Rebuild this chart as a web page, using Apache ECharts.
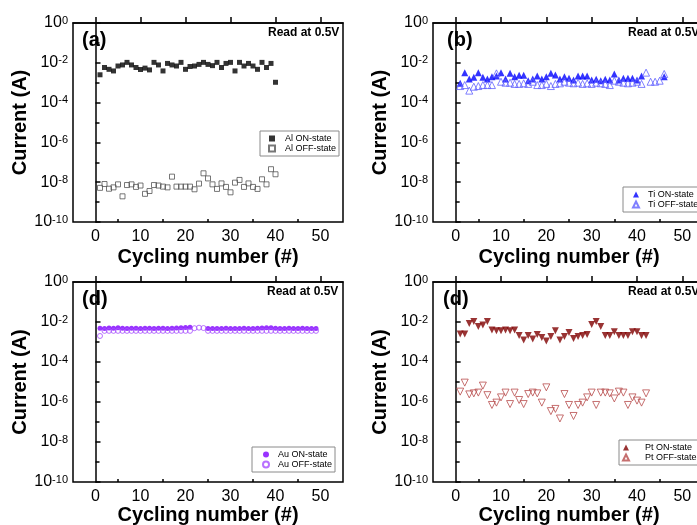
<!DOCTYPE html>
<html>
<head>
<meta charset="utf-8">
<script src="https://cdn.jsdelivr.net/npm/echarts@6/dist/echarts.min.js"></script>
<style>
html, body { margin: 0; padding: 0; background: #fff; }
#chart { width: 697px; height: 525px; }
</style>
</head>
<body>
<div id="chart"></div>
<script>
var FONT = '"Liberation Sans", Arial, sans-serif';

// tick labels
var xTicks = [0, 10, 20, 30, 40, 50];
var xMinorTicks = [5, 15, 25, 35, 45];
var yTickExp = [-10, -8, -6, -4, -2, 0];

// current (A) per cycle, cycle = index + 1
var alOn = [2.5e-3, 5.8e-3, 4.7e-3, 3.9e-3, 6.9e-3, 7.8e-3, 1.05e-2, 7.8e-3, 5.8e-3, 4.6e-3,
  5.4e-3, 4.4e-3, 1.05e-2, 7.8e-3, 3.9e-3, 9.3e-3, 7.8e-3, 6.9e-3, 1.05e-2, 4.7e-3,
  6.5e-3, 6.9e-3, 8.3e-3, 1.05e-2, 8.3e-3, 7.2e-3, 1.05e-2, 5.8e-3, 9.3e-3, 1.05e-2,
  3.9e-3, 1.05e-2, 6.9e-3, 9.3e-3, 6.9e-3, 4.7e-3, 1.05e-2, 5.8e-3, 9.3e-3, 1.05e-3];
var alOff = [5.2e-9, 8.1e-9, 4.7e-9, 5.5e-9, 7.8e-9, 1.95e-9, 7.2e-9, 7.8e-9, 5.8e-9, 6.8e-9,
  2.6e-9, 3.6e-9, 7.2e-9, 6.8e-9, 6.0e-9, 5.5e-9, 1.9e-8, 6.0e-9, 6.0e-9, 6.0e-9,
  6.0e-9, 4.4e-9, 8.5e-9, 2.8e-8, 1.55e-8, 7.8e-9, 4.6e-9, 8.7e-9, 5.8e-9, 3.1e-9,
  9.5e-9, 1.3e-8, 5.8e-9, 8.7e-9, 5.8e-9, 4.6e-9, 1.4e-8, 7.8e-9, 4.5e-8, 2.5e-8];

var tiOn = [9.3e-4, 3.2e-3, 1.55e-3, 1.86e-3, 3.2e-3, 1.86e-3, 1.55e-3, 2.0e-3, 2.2e-3, 3.2e-3,
  1.55e-3, 2.95e-3, 2.0e-3, 2.35e-3, 2.35e-3, 1.26e-3, 1.55e-3, 2.2e-3, 1.55e-3, 2.0e-3,
  2.95e-3, 2.45e-3, 1.55e-3, 2.0e-3, 1.66e-3, 1.38e-3, 2.2e-3, 2.2e-3, 2.2e-3, 1.38e-3,
  1.48e-3, 1.26e-3, 1.48e-3, 1.38e-3, 2.75e-3, 1.38e-3, 1.66e-3, 1.66e-3, 1.66e-3, 1.38e-3,
  2.2e-3, null, null, null, null, 2.0e-3];
var tiOff = [6.8e-4, 7.6e-4, 4.0e-4, 6.3e-4, 6.8e-4, 7.6e-4, 7.6e-4, 7.6e-4, 2.95e-3, 1.12e-3,
  1.0e-3, 1.0e-3, 8.7e-4, 8.7e-4, 9.3e-4, 8.7e-4, 1.12e-3, 7.6e-4, 7.6e-4, 8.7e-4,
  6.8e-4, 8.7e-4, 9.3e-4, 1.12e-3, 1.0e-3, 9.3e-4, 1.0e-3, 8.7e-4, 9.3e-4, 8.7e-4,
  1.0e-3, 9.3e-4, 8.7e-4, 7.6e-4, 1.26e-3, 1.12e-3, 1.0e-3, 9.3e-4, 1.0e-3, 1.12e-3,
  8.7e-4, 3.2e-3, 1.12e-3, 1.12e-3, 1.26e-3, 2.75e-3];

var auOn = [4.9e-3, 4.8e-3, 5.0e-3, 4.9e-3, 5.1e-3, 4.9e-3, 4.8e-3, 4.9e-3, 4.9e-3, 4.8e-3,
  4.9e-3, 4.9e-3, 4.8e-3, 4.9e-3, 4.9e-3, 4.8e-3, 4.9e-3, 5.0e-3, 5.1e-3, 5.3e-3,
  5.4e-3, null, null, null, 4.7e-3, 4.8e-3, 4.8e-3, 4.8e-3, 4.9e-3, 4.8e-3,
  4.8e-3, 4.8e-3, 4.9e-3, 4.8e-3, 4.8e-3, 4.9e-3, 5.0e-3, 5.2e-3, 5.1e-3, 4.9e-3,
  4.8e-3, 4.8e-3, 4.9e-3, 4.8e-3, 4.8e-3, 4.9e-3, 4.8e-3, 4.8e-3, 4.8e-3];
var auOff = [2.0e-3, 3.6e-3, 3.6e-3, 3.6e-3, 3.6e-3, 3.6e-3, 3.6e-3, 3.6e-3, 3.6e-3, 3.6e-3,
  3.6e-3, 3.6e-3, 3.6e-3, 3.6e-3, 3.6e-3, 3.6e-3, 3.6e-3, 3.6e-3, 3.6e-3, 3.6e-3,
  3.6e-3, 4.9e-3, 5.2e-3, 5.0e-3, 3.6e-3, 3.6e-3, 3.6e-3, 3.6e-3, 3.6e-3, 3.6e-3,
  3.6e-3, 3.6e-3, 3.6e-3, 3.6e-3, 3.6e-3, 3.6e-3, 3.6e-3, 3.6e-3, 3.6e-3, 3.6e-3,
  3.6e-3, 3.6e-3, 3.6e-3, 3.6e-3, 3.6e-3, 3.6e-3, 3.6e-3, 3.6e-3, 3.6e-3];

var ptOn = [2.5e-3, 2.5e-3, 8.5e-3, 1.05e-2, 5.9e-3, 7.1e-3, 1.05e-2, 4.0e-3, 3.7e-3, 3.7e-3,
  4.0e-3, 3.7e-3, 4.0e-3, 2.1e-3, 1.26e-3, 2.1e-3, 1.41e-3, 2.4e-3, 1.66e-3, 1.12e-3,
  1.86e-3, 3.7e-3, 1.26e-3, 1.86e-3, 3.0e-3, 1.51e-3, 1.86e-3, 2.1e-3, 2.4e-3, 7.6e-3,
  1.05e-2, 5.9e-3, 2.1e-3, 2.1e-3, 3.3e-3, 2.1e-3, 2.1e-3, 2.1e-3, 3.3e-3, 3.3e-3,
  2.1e-3, 2.1e-3];
var ptOff = [3.3e-6, 9.3e-6, 2.4e-6, 2.7e-6, 2.95e-6, 6.6e-6, 2.2e-6, 7.1e-7, 9.3e-7, 1.7e-6,
  2.95e-6, 7.9e-7, 2.95e-6, 1.26e-6, 7.9e-7, 2.5e-6, 2.95e-6, 2.7e-6, 9.3e-7, 5.4e-6,
  3.5e-7, 4.5e-7, 1.5e-7, 2.5e-6, 7.1e-7, 2.0e-7, 7.1e-7, 9.3e-7, 1.7e-6, 2.95e-6,
  7.1e-7, 2.95e-6, 2.95e-6, 2.7e-6, 1.5e-6, 3.3e-6, 2.95e-6, 7.1e-7, 1.7e-6, 1.17e-6,
  9.3e-7, 2.7e-6];

function pts(arr) {
  var out = [];
  for (var i = 0; i < arr.length; i++) {
    if (arr[i] != null) out.push([i + 1, Math.log10(arr[i])]);
  }
  return out;
}

var grids = [
  {left: 73, top: 23, width: 270, height: 199},
  {left: 433, top: 23, width: 272, height: 199},
  {left: 73, top: 282, width: 270, height: 200},
  {left: 433, top: 282, width: 272, height: 200}
];

var xAxes = [], yAxes = [];
for (var g = 0; g < 4; g++) {
  grids[g].show = true;
  grids[g].borderColor = '#000';
  grids[g].borderWidth = 1.5;
  grids[g].outerBoundsMode = 'none';
  grids[g].containLabel = false;
  xAxes.push({
    type: 'value', gridIndex: g, min: -5, max: 55, position: 'bottom',
    name: 'Cycling number (#)', nameLocation: 'middle', nameGap: g < 2 ? 25 : 23,
    nameTextStyle: {fontSize: 20, fontWeight: 'bold', fontFamily: FONT, color: '#000'},
    axisLine: {show: true, lineStyle: {color: '#000', width: 1.5}},
    axisTick: {show: true, inside: true, length: 6, customValues: xTicks, lineStyle: {color: '#000', width: 1.5}},
    axisLabel: {customValues: xTicks, fontSize: 16, fontFamily: FONT, color: '#000', margin: 7},
    splitLine: {show: false}
  });
  yAxes.push({
    type: 'value', gridIndex: g, min: -10, max: 0, interval: 2,
    name: 'Current (A)', nameLocation: 'middle', nameGap: 41,
    nameTextStyle: {fontSize: 20, fontWeight: 'bold', fontFamily: FONT, color: '#000'},
    axisLine: {show: true, lineStyle: {color: '#000', width: 1.5}},
    axisTick: {show: true, inside: true, length: 5, lineStyle: {color: '#000', width: 1.5}},
    minorTick: {show: true, splitNumber: 2, length: 4, lineStyle: {color: '#000', width: 1.5}},
    axisLabel: {
      customValues: yTickExp, margin: 5, color: '#000',
      formatter: function (v) { return '{b|10}{s|' + v + '}'; },
      rich: {
        b: {fontSize: 16, fontFamily: FONT, color: '#000', lineHeight: 16, verticalAlign: 'bottom'},
        s: {fontSize: 11, fontFamily: FONT, color: '#000', lineHeight: 11, verticalAlign: 'top', padding: [0, 0, 9, 0]}
      }
    },
    splitLine: {show: false}
  });
}
// short minor ticks on x
for (var g2 = 0; g2 < 4; g2++) {
  xAxes.push({
    type: 'value', gridIndex: g2, min: -5, max: 55, position: 'bottom', offset: 0,
    axisLine: {show: false},
    axisTick: {show: true, inside: true, length: 3, customValues: xMinorTicks, lineStyle: {color: '#000', width: 1.5}},
    axisLabel: {show: false},
    splitLine: {show: false}
  });
}

function sc(name, arr, idx, symbol, size, color, hollow, rotate) {
  return {
    name: name, type: 'scatter', xAxisIndex: idx, yAxisIndex: idx,
    data: pts(arr), symbol: symbol, symbolSize: size, symbolRotate: rotate || 0,
    itemStyle: hollow
      ? {color: 'rgba(0,0,0,0)', borderColor: color, borderWidth: 1}
      : {color: color},
    emphasis: {disabled: true}
  };
}

var series = [
  sc('Al ON-state', alOn, 0, 'rect', 5, '#000', false),
  sc('Al OFF-state', alOff, 0, 'rect', 5, '#555', true),
  sc('Ti ON-state', tiOn, 1, 'triangle', 7, '#0000ff', false),
  sc('Ti OFF-state', tiOff, 1, 'triangle', 7, '#6060ff', true),
  sc('Au ON-state', auOn, 2, 'circle', 5, '#7f00ff', false),
  sc('Au OFF-state', auOff, 2, 'circle', 5, '#a64dff', true),
  sc('Pt ON-state', ptOn, 3, 'triangle', 7, '#800000', false, 180),
  sc('Pt OFF-state', ptOff, 3, 'triangle', 7, '#b84c4c', true, 180)
];

function leg(names, left, top, padLeft, textPad) {
  return {
    data: names, orient: 'vertical', left: left, top: top, padding: [3, 3, 3, padLeft],
    itemGap: 1, itemWidth: 6, itemHeight: 6, selectedMode: false,
    borderColor: '#8a8a8a', borderWidth: 1, borderRadius: 0,
    textStyle: {fontSize: 9, fontFamily: FONT, color: '#000', lineHeight: 9, padding: [0, 0, 0, textPad]}
  };
}

var legends = [
  leg(['Al ON-state', 'Al OFF-state'], 260, 131, 8, 5),
  leg(['Ti ON-state', 'Ti OFF-state'], 623, 187, 9, 4),
  leg(['Au ON-state', 'Au OFF-state'], 252, 447, 10, 4),
  leg(['Pt ON-state', 'Pt OFF-state'], 619, 440, 3, 11)
];

function txt(s, x, y, size) {
  return {
    type: 'text', left: x, top: y, silent: true,
    style: {text: s, font: 'bold ' + size + 'px ' + FONT, fill: '#000'}
  };
}

var graphics = [
  txt('(a)', 82, 30, 20), txt('Read at 0.5V', 268, 27, 12),
  txt('(b)', 447, 30, 20), txt('Read at 0.5V', 628, 27, 12),
  txt('(d)', 82, 289, 20), txt('Read at 0.5V', 267, 286, 12),
  txt('(d)', 443, 289, 20), txt('Read at 0.5V', 628, 286, 12)
];

var chart = echarts.init(document.getElementById('chart'));
chart.setOption({
  animation: false,
  backgroundColor: '#fff',
  grid: grids,
  xAxis: xAxes,
  yAxis: yAxes,
  legend: legends,
  graphic: graphics,
  series: series
});
</script>
</body>
</html>
